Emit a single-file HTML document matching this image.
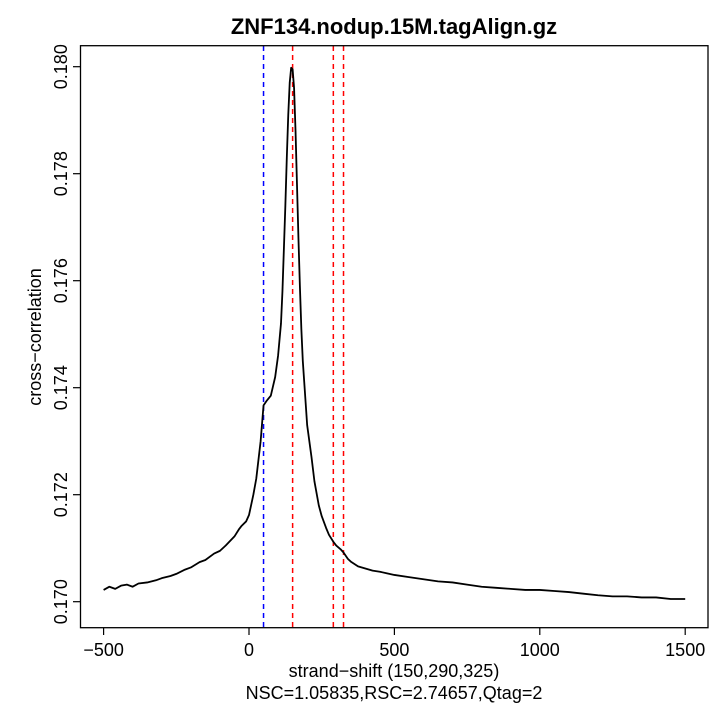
<!DOCTYPE html>
<html><head><meta charset="utf-8"><style>
body{margin:0;background:#fff}
svg{display:block;font-family:"Liberation Sans",sans-serif}
</style></head><body>
<svg width="720" height="720" viewBox="0 0 720 720">
<rect width="720" height="720" fill="#fff"/>
<text x="394" y="34" font-size="22" font-weight="bold" text-anchor="middle">ZNF134.nodup.15M.tagAlign.gz</text>
<g id="plot"></g>
<rect x="80.5" y="45.7" width="627.5" height="582" fill="none" stroke="#000" stroke-width="1.3"/>
<text x="394" y="677" font-size="18" text-anchor="middle">strand−shift (150,290,325)</text>
<text x="394" y="699" font-size="18" text-anchor="middle">NSC=1.05835,RSC=2.74657,Qtag=2</text>
<text transform="translate(41,337) rotate(-90)" font-size="18" text-anchor="middle">cross−correlation</text>
</svg>
<script>
const shifts=[-500,-480,-460,-440,-420,-400,-380,-350,-320,-300,-270,-250,-220,-200,-170,-150,-120,-100,-80,-50,-35,-25,-10,0,15,25,40,50,60,75,90,100,110,115,120,125,130,135,140,145,150,155,160,165,170,175,180,185,195,200,215,225,240,250,265,275,290,300,315,325,340,350,375,400,425,450,475,500,550,600,650,700,750,800,850,900,950,1000,1050,1100,1150,1200,1250,1300,1350,1400,1450,1500];
const values=[0.17022,0.17028,0.17024,0.17030,0.17032,0.17028,0.17034,0.17036,0.17040,0.17044,0.17048,0.17052,0.17060,0.17064,0.17074,0.17078,0.17090,0.17095,0.17105,0.17122,0.17135,0.17142,0.17150,0.17162,0.17200,0.17230,0.17300,0.17367,0.17375,0.17385,0.17420,0.17460,0.17520,0.17580,0.17660,0.17740,0.17830,0.17910,0.17970,0.17998,0.17995,0.17960,0.17880,0.17780,0.17680,0.17590,0.17510,0.17450,0.17370,0.17330,0.17270,0.17225,0.17180,0.17160,0.17138,0.17125,0.17112,0.17105,0.17098,0.17092,0.17080,0.17075,0.17066,0.17062,0.17058,0.17056,0.17053,0.17050,0.17046,0.17042,0.17038,0.17036,0.17032,0.17028,0.17026,0.17024,0.17022,0.17022,0.17020,0.17018,0.17015,0.17012,0.17010,0.17010,0.17008,0.17008,0.17005,0.17005];
const xTicks=[-500,0,500,1000,1500];
const yTicks=[0.170,0.172,0.174,0.176,0.178,0.180];
const redLines=[150,290,325];
const blueLines=[50];
const X=v=>249+(v)*0.2908;
const Y=v=>66.7+(0.180-v)*53500;
const NS="http://www.w3.org/2000/svg";
const g=document.getElementById('plot');
function mk(t,a){const e=document.createElementNS(NS,t);for(const k in a)e.setAttribute(k,a[k]);g.appendChild(e);return e;}
xTicks.forEach(t=>{
 const l=mk('line',{x1:X(t),x2:X(t),y1:627.7,y2:635,stroke:'#000','stroke-width':1.2});
 
 
 const tx=mk('text',{x:X(t),y:656,'font-size':18,'text-anchor':'middle'});
 tx.textContent=t<0?'−'+Math.abs(t):String(t);
 
 
});
yTicks.forEach(t=>{
 const l=mk('line',{x1:73,x2:80.5,y1:Y(t),y2:Y(t),stroke:'#000','stroke-width':1.2});
 
 
 const tx=mk('text',{x:0,y:0,'font-size':18,'text-anchor':'middle',transform:`translate(67,${Y(t)}) rotate(-90)`});
 tx.textContent=t.toFixed(3);
 
 
});
blueLines.forEach(v=>{
 const l=mk('line',{x1:X(v),x2:X(v),y1:46,y2:627,stroke:'#0000ff','stroke-width':1.5,'stroke-dasharray':'5,4'});
 
 
});
redLines.forEach(v=>{
 const l=mk('line',{x1:X(v),x2:X(v),y1:46,y2:627,stroke:'#ff0000','stroke-width':1.5,'stroke-dasharray':'5,4'});
 
 
});
const p=mk('polyline',{points:shifts.map((s,i)=>X(s)+','+Y(values[i])).join(' '),fill:'none',stroke:'#000','stroke-width':1.8,'stroke-linejoin':'round'});


</script>
</body></html>
